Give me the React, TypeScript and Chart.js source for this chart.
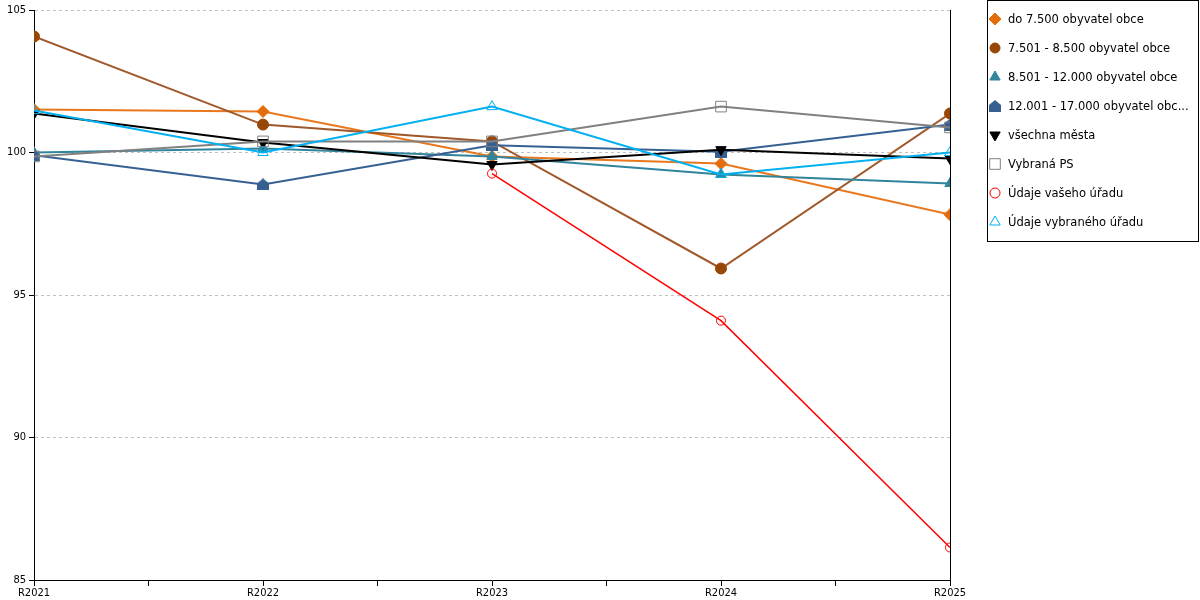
import { useEffect, useRef } from "react"
import { Chart, registerables } from "chart.js"
import { drawPoint } from "chart.js/helpers"

Chart.register(...registerables)

// data
const years = ["R2021", "R2022", "R2023", "R2024", "R2025"]
const labels = [
  "do 7.500 obyvatel obce",
  "7.501 - 8.500 obyvatel obce",
  "8.501 - 12.000 obyvatel obce",
  "12.001 - 17.000 obyvatel obc...",
  "všechna města",
  "Vybraná PS",
  "Údaje vašeho úřadu",
  "Údaje vybraného úřadu",
]
const do7500 = [101.51, 101.44, 99.86, 99.61, 97.82]
const od7501 = [104.07, 100.98, 100.39, 95.93, 101.37]
const od8501 = [100.0, 100.14, 99.86, 99.23, 98.91]
const od12001 = [99.9, 98.88, 100.25, 100.03, 100.98]
const vsechnaMesta = [101.37, 100.35, 99.58, 100.1, 99.79]
const vybranaPS = [99.86, 100.39, 100.39, 101.61, 100.88]
const vasUrad = [null, null, 99.26, 94.1, 86.14]
const vybranyUrad = [101.47, 100.0, 101.61, 99.23, 100.0]
const yTicks = [85, 90, 95, 100, 105]

const FONT = "'DejaVu Sans', Verdana, sans-serif"
const AXIS_FONT = "'DejaVu Sans Condensed', 'Liberation Sans', sans-serif"
const NONE = "rgba(0,0,0,0)"

// small "house" marker (triangle on top of a square)
function houseMarker(color: string) {
  const c = document.createElement("canvas")
  c.width = 12
  c.height = 12
  const g = c.getContext("2d")!
  g.fillStyle = color
  g.beginPath()
  g.moveTo(6, 0)
  g.lineTo(12, 5)
  g.lineTo(12, 12)
  g.lineTo(0, 12)
  g.lineTo(0, 5)
  g.closePath()
  g.fill()
  return c
}

const toXY = (arr: (number | null)[]) => arr.map((v, i) => ({ x: i, y: v }))

const legendBox = {
  id: "legendBox",
  afterDraw(chart: any) {
    const ctx = chart.ctx
    ctx.save()
    ctx.fillStyle = "#fff"
    ctx.strokeStyle = "#000"
    ctx.lineWidth = 1
    ctx.fillRect(987.5, 0.5, 211, 241)
    ctx.strokeRect(987.5, 0.5, 211, 241)
    chart.data.datasets.forEach((ds: any, i: number) => {
      const y = 19 + i * 29
      ctx.fillStyle = ds.pointBackgroundColor
      ctx.strokeStyle = ds.pointBorderColor
      ctx.lineWidth = 1
      drawPoint(
        ctx,
        { pointStyle: ds.pointStyle, rotation: ds.pointRotation || 0, radius: ds.legendRadius, borderWidth: 1 },
        995,
        y
      )
      ctx.fillStyle = "#000"
      ctx.font = `11.5px ${FONT}`
      ctx.textBaseline = "middle"
      ctx.textAlign = "left"
      ctx.fillText(ds.label, 1008, y + 1)
    })
    ctx.restore()
  },
}

export default function App() {
  const chartRef = useRef<HTMLCanvasElement>(null)
  const chartInstance = useRef<Chart | null>(null)

  useEffect(() => {
    if (!chartRef.current) return
    if (chartInstance.current) chartInstance.current.destroy()

    const line = (label: string, data: (number | null)[], color: string, extra: any) => ({
      label,
      data: toXY(data),
      borderColor: color,
      backgroundColor: color,
      borderWidth: 2,
      pointBackgroundColor: color,
      pointBorderColor: color,
      pointBorderWidth: 1,
      tension: 0,
      ...extra,
    })

    const datasets: any[] = [
      line(labels[0], do7500, "#E46C0A", { pointStyle: "rectRot", pointRadius: 6, legendRadius: 6, borderColor: "#E8771E" }),
      line(labels[1], od7501, "#974806", { pointStyle: "circle", pointRadius: 5.5, legendRadius: 5, borderColor: "#A0582A" }),
      line(labels[2], od8501, "#31849B", { pointStyle: "triangle", pointRadius: 6, legendRadius: 6 }),
      line(labels[3], od12001, "#366092", { pointStyle: houseMarker("#366092"), pointRadius: 6, legendRadius: 6 }),
      line(labels[4], vsechnaMesta, "#000000", { pointStyle: "triangle", pointRotation: 180, pointRadius: 6, legendRadius: 6 }),
      line(labels[5], vybranaPS, "#808080", { pointStyle: "rect", pointRadius: 7.5, legendRadius: 7.5, pointBackgroundColor: NONE }),
      line(labels[6], vasUrad, "#FF0000", { pointStyle: "circle", pointRadius: 4.5, legendRadius: 5, pointBackgroundColor: NONE, borderWidth: 1.5 }),
      line(labels[7], vybranyUrad, "#00B0F0", { pointStyle: "triangle", pointRadius: 6, legendRadius: 6, pointBackgroundColor: NONE }),
    ]
    // later series drawn on top
    datasets.forEach((d, i) => (d.order = datasets.length - i))

    const ctx = chartRef.current.getContext("2d")
    if (ctx) {
      chartInstance.current = new Chart(ctx, {
        type: "line",
        data: { datasets },
        plugins: [legendBox],
        options: {
          responsive: true,
          maintainAspectRatio: false,
          animation: false,
          layout: { padding: { top: 10, right: 250, left: 0, bottom: 0 } },
          plugins: { legend: { display: false }, tooltip: { enabled: false } },
          scales: {
            x: {
              type: "linear",
              min: 0,
              max: years.length - 1,
              afterBuildTicks: (s: any) => {
                s.ticks = years.flatMap((_, i) => (i ? [i - 0.5, i] : [0])).map((v) => ({ value: v }))
              },
              ticks: {
                autoSkip: false,
                maxRotation: 0,
                padding: 1,
                color: "#000",
                font: { family: AXIS_FONT, size: 11 },
                callback: (v: any) => (Number.isInteger(v) ? years[v] : ""),
              },
              grid: {
                drawOnChartArea: true,
                color: (c: any) => (c.tick && c.tick.value === years.length - 1 ? "#000" : NONE),
                tickColor: "#000",
                tickLength: 6,
                lineWidth: 1,
              },
              border: { color: "#000", width: 1 },
              afterFit: (s: any) => {
                s.height = 20
              },
            },
            y: {
              min: 85,
              max: 105,
              afterBuildTicks: (s: any) => {
                s.ticks = yTicks.map((v) => ({ value: v }))
              },
              ticks: { color: "#000", padding: 3, font: { family: AXIS_FONT, size: 11 } },
              grid: {
                color: (c: any) => (c.tick && c.tick.value === 85 ? NONE : "#c0c0c0"),
                tickColor: "#000",
                tickLength: 5,
                lineWidth: 1,
              },
              border: { color: "#000", width: 1, dash: [3, 3] },
              afterFit: (s: any) => {
                s.width = 34
              },
            },
          },
        },
      })
    }

    return () => {
      if (chartInstance.current) {
        chartInstance.current.destroy()
        chartInstance.current = null
      }
    }
  }, [])

  return (
    <div style={{ position: "absolute", left: 0, top: 0, width: 1200, height: 600, background: "#fff" }}>
      <canvas ref={chartRef} />
    </div>
  )
}
